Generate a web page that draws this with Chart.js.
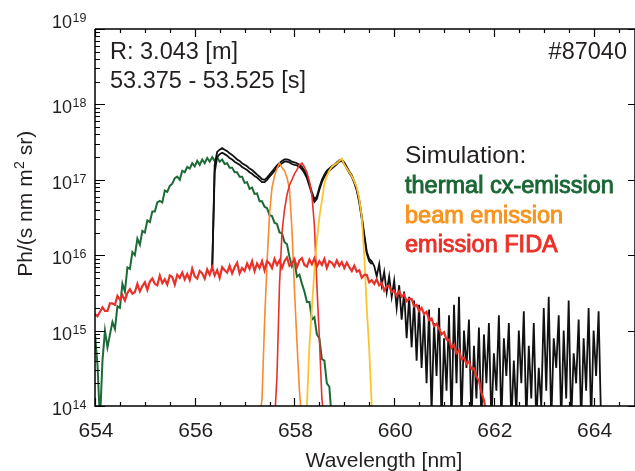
<!DOCTYPE html>
<html>
<head>
<meta charset="utf-8">
<script src="https://cdn.jsdelivr.net/npm/chart.js@4/dist/chart.umd.min.js"></script>
<style>
  html, body { margin: 0; padding: 0; background: #fff; }
  canvas { display: block; }
</style>
</head>
<body>
<canvas id="chart" width="635" height="471"></canvas>
<script>
// wavelength grid: every series is sampled every 0.05 nm from its own start
const STEP = 0.05;

const thermalStart = 654.00;
const thermalCx = [
  8.9e14, 3.5e14, 6.3e13, 4.0e14, 1.0e15, 6.0e14, 8.9e14, 1.3e15, 1.05e15, 2.1e15,
  2.0e15, 4.2e15, 3.3e15, 6.9e15, 6.6e15, 1.1e16, 1.0e16, 1.66e16, 1.38e16, 2.1e16,
  2.0e16, 2.9e16, 2.75e16, 3.8e16, 3.8e16, 5.0e16, 5.25e16, 5.0e16, 7.2e16, 6.9e16,
  8.3e16, 8.9e16, 1.05e17, 1.1e17, 1.0e17, 1.32e17, 1.26e17, 1.48e17, 1.41e17, 1.66e17,
  1.51e17, 1.78e17, 1.58e17, 1.86e17, 1.66e17, 1.95e17, 1.74e17, 2.0e17, 1.78e17, 2.0e17,
  1.74e17, 1.86e17, 1.62e17, 1.66e17, 1.45e17, 1.45e17, 1.26e17, 1.26e17, 1.1e17, 1.1e17,
  9.1e16, 9.3e16, 7.6e16, 7.9e16, 6.5e16, 6.6e16, 5.2e16, 5.2e16, 4.4e16, 4.2e16,
  3.4e16, 3.3e16, 2.7e16, 2.6e16, 2.0e16, 1.95e16, 1.5e16, 1.4e16, 9.5e15, 7.1e15,
  8.3e15, 5.2e15, 5.5e15, 4.2e15, 3.3e15, 2.4e15, 2.4e15, 1.4e15, 1.5e15, 8.9e14,
  7.9e14, 4.2e14, 4.0e14, 2.0e14, 1.8e14, 6.3e13
];

const fidaStart = 654.00;
const fidaEmission = [
  1.66e15, 1.55e15, 1.78e15, 2.04e15, 1.82e15, 1.82e15, 2.29e15, 2.29e15, 2.19e15, 2.88e15,
  2.57e15, 2.95e15, 2.51e15, 3.16e15, 3.55e15, 3.09e15, 3.24e15, 4.17e15, 3.31e15, 3.89e15,
  4.37e15, 3.47e15, 4.47e15, 4.9e15, 4.17e15, 3.98e15, 5.37e15, 4.27e15, 4.79e15, 4.07e15,
  5.37e15, 5.13e15, 4.07e15, 5.5e15, 5.01e15, 5.89e15, 4.79e15, 5.62e15, 4.68e15, 6.61e15,
  5.25e15, 4.9e15, 6.17e15, 5.75e15, 4.9e15, 6.46e15, 5.5e15, 6.92e15, 5.37e15, 6.31e15,
  5.01e15, 6.92e15, 6.31e15, 5.89e15, 7.24e15, 5.75e15, 6.92e15, 7.94e15, 5.75e15, 6.76e15,
  6.17e15, 7.76e15, 6.61e15, 8.32e15, 6.17e15, 7.76e15, 6.76e15, 8.32e15, 6.31e15, 8.32e15,
  7.76e15, 6.76e15, 8.91e15, 7.41e15, 8.51e15, 6.76e15, 8.32e15, 9.33e15, 7.24e15, 7.76e15,
  8.91e15, 6.92e15, 8.51e15, 9.12e15, 7.41e15, 7.08e15, 8.71e15, 7.59e15, 9.12e15, 7.08e15,
  8.32e15, 7.41e15, 8.91e15, 6.76e15, 8.32e15, 7.94e15, 7.08e15, 8.51e15, 7.24e15, 8.13e15,
  6.76e15, 7.94e15, 6.92e15, 6.17e15, 7.24e15, 6.03e15, 6.31e15, 5.01e15, 5.5e15, 5.5e15,
  4.37e15, 4.68e15, 4.17e15, 4.79e15, 3.98e15, 4.27e15, 3.39e15, 3.89e15, 3.89e15, 3.24e15,
  3.39e15, 2.88e15, 3.31e15, 2.82e15, 3.02e15, 2.45e15, 2.63e15, 2.63e15, 2.09e15, 2.19e15,
  1.82e15, 2.0e15, 1.66e15, 1.78e15, 1.38e15, 1.45e15, 1.15e15, 1.23e15, 1.07e15, 8.91e14,
  9.55e14, 7.59e14, 7.59e14, 5.89e14, 6.46e14, 5.01e14, 5.5e14, 4.17e14, 4.37e14, 3.63e14,
  3.89e14, 3.09e14, 3.16e14, 2.45e14, 2.19e14, 1.51e14, 1.2e14, 7.9e13
];

const beamStart = 657.30;
const beamEmission = [
  6.0e13, 1.26e14, 1.26e15, 7.9e15, 3.5e16, 7.9e16, 1.12e17, 1.41e17, 1.66e17, 1.45e17,
  1.32e17, 1.07e17, 7.6e16, 2.2e16, 3.5e15, 7.1e14, 1.6e14, 6.0e13
];

const fidaBandStart = 657.60;
const fidaBand = [
  6.0e13, 2.5e14, 4.0e15, 2.0e16, 4.0e16, 6.3e16, 8.5e16, 1.0e17, 1.2e17, 1.35e17,
  1.58e17, 1.66e17, 1.48e17, 1.26e17, 9.5e16, 6.3e16, 2.5e16, 4.0e15, 7.9e14, 1.26e14,
  6.0e13
];

const beamRedStart = 658.20;
const beamRed = [
  6.0e13, 1.0e14, 6.3e14, 2.0e15, 6.3e15, 1.58e16, 3.2e16, 5.25e16, 8.9e16, 1.12e17,
  1.32e17, 1.48e17, 1.58e17, 1.66e17, 1.78e17, 1.9e17, 1.58e17, 1.41e17, 1.26e17, 1.12e17,
  9.5e16, 7.9e16, 5.6e16, 3.2e16, 1.0e16, 2.0e15, 5.6e14, 1.0e14, 6.0e13
];

const measStart = 656.35;
const measuredA = [
  6.3e15, 1.58e17, 2.34e17, 2.51e17, 2.63e17, 2.51e17, 2.4e17, 2.24e17, 2.14e17, 2.0e17,
  1.86e17, 1.78e17, 1.66e17, 1.58e17, 1.51e17, 1.41e17, 1.35e17, 1.26e17, 1.17e17, 1.1e17,
  1.02e17, 1.0e17, 1.07e17, 1.17e17, 1.29e17, 1.41e17, 1.55e17, 1.66e17, 1.78e17, 1.86e17,
  1.86e17, 1.82e17, 1.74e17, 1.7e17, 1.66e17, 1.58e17, 1.48e17, 1.32e17, 1.12e17, 8.9e16,
  6.9e16, 5.5e16, 6.0e16, 7.9e16, 1.0e17, 1.17e17, 1.32e17, 1.41e17, 1.51e17, 1.58e17,
  1.7e17, 1.82e17, 1.86e17, 1.7e17, 1.48e17, 1.29e17, 1.15e17, 9.5e16, 7.6e16, 5.4e16,
  3.3e16, 1.9e16, 1.12e16, 8.9e15, 8.3e15,
  7.2e15, 5.25e15, 7.6e15, 4.0e15, 6.0e15, 3.2e15, 5.25e15, 2.8e15, 4.6e15, 2.0e15,
  4.0e15, 1.4e15, 3.3e15, 7.9e14, 2.8e15, 6.0e14, 2.5e15, 4.0e14, 2.2e15, 3.2e14,
  1.6e15, 2.0e14, 1.9e15, 8.0e13, 1.26e15, 2.5e14, 2.0e15, 6.0e13, 7.9e14, 1.6e14,
  1.6e15, 6.0e13, 2.2e15, 2.0e14, 2.8e15, 6.0e13, 1.0e15, 3.2e14, 1.4e15, 6.0e13,
  6.3e14, 1.26e14, 1.1e15, 6.0e13, 8.9e14, 2.0e14, 1.26e15, 6.0e13, 5.0e14, 1.6e14,
  1.6e15, 6.0e13, 7.9e14, 2.5e14, 1.26e15, 6.0e13, 4.0e14, 8.0e13, 1.0e15, 2.0e14,
  1.8e15, 6.0e13, 6.3e14, 1.26e14, 1.26e15, 6.0e13, 3.2e14, 1.0e14, 2.0e15, 1.6e14,
  2.8e15, 6.0e13, 7.9e14, 3.2e14, 1.6e15, 6.0e13, 1.0e15, 1.26e14, 2.5e15, 6.0e13,
  5.0e14, 2.0e14, 1.4e15, 6.0e13, 7.9e14, 1.6e14, 2.0e15, 6.0e13, 1.0e15, 2.5e14,
  1.8e15, 6.0e13
];
const measuredB = [
  6.3e15, 1.26e17, 2.0e17, 2.19e17, 2.29e17, 2.19e17, 2.09e17, 1.95e17, 1.86e17, 1.74e17,
  1.66e17, 1.58e17, 1.48e17, 1.41e17, 1.35e17, 1.26e17, 1.2e17, 1.12e17, 1.07e17, 1.0e17,
  9.3e16, 9.3e16, 1.0e17, 1.1e17, 1.2e17, 1.32e17, 1.45e17, 1.55e17, 1.66e17, 1.74e17,
  1.74e17, 1.7e17, 1.62e17, 1.58e17, 1.55e17, 1.48e17, 1.38e17, 1.23e17, 1.05e17, 8.3e16,
  6.5e16, 5.1e16, 5.6e16, 7.4e16, 9.3e16, 1.1e17, 1.23e17, 1.32e17, 1.41e17, 1.51e17,
  1.62e17, 1.74e17, 1.78e17, 1.62e17, 1.41e17, 1.23e17, 1.1e17, 9.1e16, 7.2e16, 5.0e16,
  3.0e16, 1.74e16, 1.05e16, 8.3e15, 7.6e15
];

const xTickLabels = ['654', '656', '658', '660', '662', '664'];
const yDecades = [14, 15, 16, 17, 18, 19];

const BLACK = '#111111';
const GREEN = '#1d6a37';
const ORANGE = '#f68b2f';
const RED = '#e8312a';
const YELLOW = '#fcc42c';
const FONT = '"Liberation Sans", Arial, Helvetica, sans-serif';

function toPoints(start, vals) {
  return vals.map((v, i) => ({ x: +(start + i * STEP).toFixed(2), y: v }));
}

function line(data, color, width) {
  return {
    data: data,
    borderColor: color,
    borderWidth: width,
    pointRadius: 0,
    tension: 0,
    fill: false
  };
}

function drawBoldText(ctx, text, x, y, color) {
  ctx.fillStyle = color;
  ctx.strokeStyle = color;
  ctx.lineWidth = 0.9;
  ctx.fillText(text, x, y);
  ctx.strokeText(text, x, y);
}

const frame = {
  id: 'frame',
  afterDraw(chart) {
    const ctx = chart.ctx;
    const a = chart.chartArea;
    const xs = chart.scales.x;
    const ys = chart.scales.y;
    ctx.save();
    ctx.strokeStyle = '#000';
    ctx.lineWidth = 1.5;
    ctx.beginPath();
    ctx.moveTo(a.left, a.top);
    ctx.lineTo(a.right, a.top);
    ctx.moveTo(a.left, a.top);
    ctx.lineTo(a.left, a.bottom);
    ctx.lineTo(a.right, a.bottom);
    ctx.moveTo(a.right, a.top);
    ctx.lineTo(a.right, a.bottom);
    ctx.stroke();

    // x ticks, pointing inward on top and bottom
    ctx.lineWidth = 1.2;
    ctx.beginPath();
    for (let v = 654; v <= 664.5; v += 0.5) {
      const px = Math.round(xs.getPixelForValue(v)) + 0.5;
      const len = (v % 2 === 0) ? 8 : 4;
      ctx.moveTo(px, a.bottom);
      ctx.lineTo(px, a.bottom - len);
      ctx.moveTo(px, a.top);
      ctx.lineTo(px, a.top + len);
    }
    // y ticks
    yDecades.forEach(d => {
      const py = Math.round(ys.getPixelForValue(Math.pow(10, d))) + 0.5;
      ctx.moveTo(a.left, py);
      ctx.lineTo(a.left + 10, py);
      ctx.moveTo(a.right, py);
      ctx.lineTo(a.right - 7, py);
      if (d < 19) {
        for (let m = 2; m <= 9; m++) {
          const pm = Math.round(ys.getPixelForValue(m * Math.pow(10, d))) + 0.5;
          ctx.moveTo(a.left, pm);
          ctx.lineTo(a.left + 5, pm);
        }
      }
    });
    ctx.stroke();

    // tick labels
    ctx.fillStyle = '#231f20';
    ctx.font = '21px ' + FONT;
    ctx.textAlign = 'center';
    ctx.textBaseline = 'alphabetic';
    xTickLabels.forEach(t => {
      ctx.fillText(t, xs.getPixelForValue(+t) + 1, 437);
    });

    yDecades.forEach(d => {
      const py = ys.getPixelForValue(Math.pow(10, d));
      let base = py + 9;
      if (d === 19) base = 28;
      ctx.font = '18px ' + FONT;
      ctx.textAlign = 'right';
      ctx.fillText('10', 72, base);
      ctx.font = '12.5px ' + FONT;
      ctx.textAlign = 'left';
      ctx.fillText(String(d), 72.5, base - 6);
    });

    // axis titles
    ctx.font = '21px ' + FONT;
    ctx.textAlign = 'center';
    ctx.fillText('Wavelength [nm]', 384, 467);

    ctx.save();
    ctx.translate(32, 204);
    ctx.rotate(-Math.PI / 2);
    ctx.textAlign = 'left';
    const p1 = 'Ph/(s nm m', p2 = '2', p3 = ' sr)';
    ctx.font = '21px ' + FONT;
    const w1 = ctx.measureText(p1).width, w3 = ctx.measureText(p3).width;
    ctx.font = '14px ' + FONT;
    const w2 = ctx.measureText(p2).width;
    let x0 = -(w1 + w2 + w3) / 2;
    ctx.font = '21px ' + FONT;
    ctx.fillText(p1, x0, 0);
    ctx.font = '14px ' + FONT;
    ctx.fillText(p2, x0 + w1 + 0.5, -8);
    ctx.font = '21px ' + FONT;
    ctx.fillText(p3, x0 + w1 + w2 + 0.5, 0);
    ctx.restore();

    // annotations
    ctx.font = '23.5px ' + FONT;
    ctx.textAlign = 'left';
    ctx.fillStyle = '#231f20';
    ctx.fillText('R: 3.043 [m]', 110, 59);
    ctx.fillText('53.375 - 53.525 [s]', 110, 88);
    ctx.textAlign = 'right';
    ctx.fillText('#87040', 627, 59);

    ctx.textAlign = 'left';
    ctx.font = '24.5px ' + FONT;
    ctx.fillText('Simulation:', 405, 163);
    ctx.font = '23.5px ' + FONT;
    drawBoldText(ctx, 'thermal cx-emission', 405, 193, '#1a6735');
    drawBoldText(ctx, 'beam emission', 405, 223, '#f7941d');
    drawBoldText(ctx, 'emission FIDA', 405, 252, '#ec3027');
    ctx.restore();
  }
};

new Chart(document.getElementById('chart'), {
  type: 'line',
  data: {
    datasets: [
      line(toPoints(fidaStart, fidaEmission), RED, 2.2),
      line(toPoints(beamRedStart, beamRed), YELLOW, 1.8),
      line(toPoints(fidaBandStart, fidaBand), RED, 1.6),
      line(toPoints(beamStart, beamEmission), ORANGE, 1.6),
      line(toPoints(measStart, measuredA), BLACK, 1.8),
      line(toPoints(measStart, measuredB), BLACK, 1.8),
      line(toPoints(thermalStart, thermalCx), GREEN, 2)
    ]
  },
  options: {
    responsive: false,
    animation: false,
    layout: { padding: { left: 95, top: 29, right: 0, bottom: 65 } },
    plugins: { legend: { display: false }, tooltip: { enabled: false } },
    scales: {
      x: { type: 'linear', min: 654, max: 664.83, display: false },
      y: { type: 'logarithmic', min: 1e14, max: 1e19, display: false }
    }
  },
  plugins: [frame]
});
</script>
</body>
</html>
